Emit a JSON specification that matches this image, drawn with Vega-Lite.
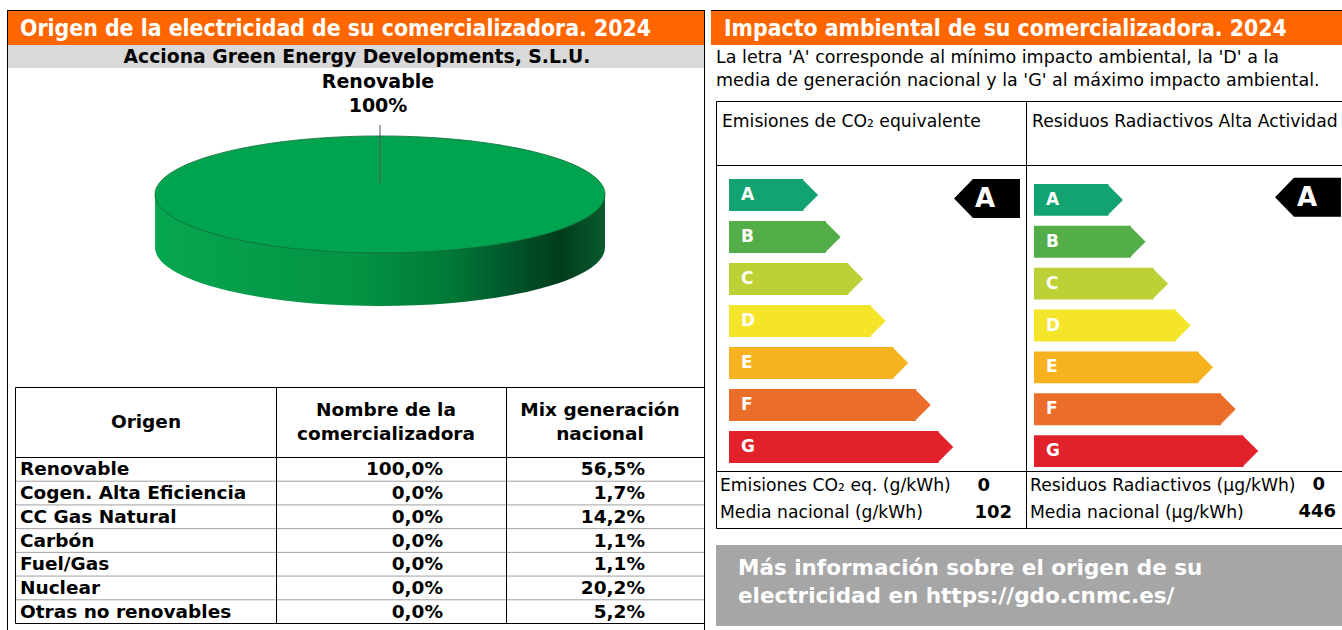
{
"$schema": "https://vega.github.io/schema/vega-lite/v6.json",
"width": 1342, "height": 630, "padding": 0, "autosize": {"type": "none"}, "background": "#ffffff",
"config": {"view": {"stroke": null}, "locale": {"number": {"decimal": ",", "thousands": ".", "grouping": [3], "currency": ["", " €"]}}},
"datasets": {
 "secciones": [
  {"seccion": "origen", "titulo": "Origen de la electricidad de su comercializadora. 2024"},
  {"seccion": "impacto", "titulo": "Impacto ambiental de su comercializadora. 2024"}
 ],
 "empresa": [{"nombre": "Acciona Green Energy Developments, S.L.U."}],
 "mix": [
  {"origen": "Renovable", "comercializadora": 1.0, "nacional": 0.565},
  {"origen": "Cogen. Alta Eficiencia", "comercializadora": 0, "nacional": 0.017},
  {"origen": "CC Gas Natural", "comercializadora": 0, "nacional": 0.142},
  {"origen": "Carbón", "comercializadora": 0, "nacional": 0.011},
  {"origen": "Fuel/Gas", "comercializadora": 0, "nacional": 0.011},
  {"origen": "Nuclear", "comercializadora": 0, "nacional": 0.202},
  {"origen": "Otras no renovables", "comercializadora": 0, "nacional": 0.052}
 ],
 "columnas": [
  {"columna": "Origen", "lineas": ["Origen"]},
  {"columna": "Nombre de la comercializadora", "lineas": ["Nombre de la", "comercializadora"]},
  {"columna": "Mix generación nacional", "lineas": ["Mix generación", "nacional"]}
 ],
 "descripcion": [{"texto": ["La letra 'A' corresponde al mínimo impacto ambiental, la 'D' a la", "media de generación nacional y la 'G' al máximo impacto ambiental."]}],
 "escala": [
  {"letra": "A", "nivel": 1}, {"letra": "B", "nivel": 2}, {"letra": "C", "nivel": 3}, {"letra": "D", "nivel": 4},
  {"letra": "E", "nivel": 5}, {"letra": "F", "nivel": 6}, {"letra": "G", "nivel": 7}
 ],
 "impacto": [
  {"clave": "co2", "indicador": "Emisiones de CO₂ equivalente", "clase": "A", "etiqueta": "Emisiones CO₂ eq. (g/kWh)", "valor": 0, "etiqueta_media": "Media nacional (g/kWh)", "media": 102},
  {"clave": "residuos", "indicador": "Residuos Radiactivos Alta Actividad", "clase": "A", "etiqueta": "Residuos Radiactivos (µg/kWh)", "valor": 0, "etiqueta_media": "Media nacional (µg/kWh)", "media": 446}
 ],
 "enlace": [{"texto": ["Más información sobre el origen de su", "electricidad en https://gdo.cnmc.es/"]}]
},
"resolve": {"scale": {"x": "independent", "y": "independent", "color": "independent"}},
"layer": [
 {"data": {"name": "secciones"}, "mark": {"type": "rect", "color": "#000000"},
  "encoding": {
   "x": {"field": "seccion", "type": "nominal", "axis": null, "scale": {"type": "band", "domain": ["origen", "impacto"], "range": [7, 1409], "paddingInner": 0.0085, "paddingOuter": 0}},
   "y": {"datum": 10, "type": "quantitative", "axis": null, "scale": {"type": "linear", "domain": [0, 630], "range": [0, 630], "nice": false, "zero": false}},
   "y2": {"datum": 11}}},
 {"data": {"name": "secciones"}, "mark": {"type": "rect", "color": "#ff6600"},
  "encoding": {
   "x": {"field": "seccion", "type": "nominal", "axis": null, "scale": {"type": "band", "domain": ["origen", "impacto"], "range": [7, 1409], "paddingInner": 0.0085, "paddingOuter": 0}},
   "y": {"datum": 11, "type": "quantitative", "axis": null, "scale": {"type": "linear", "domain": [0, 630], "range": [0, 630], "nice": false, "zero": false}},
   "y2": {"datum": 45}}},
 {"data": {"name": "secciones"}, "mark": {"type": "text", "align": "left", "baseline": "middle", "dx": 13, "font": "DejaVu Sans Condensed", "fontWeight": "bold", "fontSize": 22.8, "color": "#ffffff"},
  "encoding": {
   "x": {"field": "seccion", "type": "nominal", "axis": null, "bandPosition": 0, "scale": {"type": "band", "domain": ["origen", "impacto"], "range": [7, 1409], "paddingInner": 0.0085, "paddingOuter": 0}},
   "y": {"datum": 28.5, "type": "quantitative", "axis": null, "scale": {"type": "linear", "domain": [0, 630], "range": [0, 630], "nice": false, "zero": false}},
   "text": {"field": "titulo", "type": "nominal"}}},
 {"data": {"name": "empresa"}, "mark": {"type": "rect", "color": "#d9d9d9"},
  "encoding": {
   "x": {"field": "nombre", "type": "nominal", "axis": null, "scale": {"type": "band", "range": [8, 704], "paddingInner": 0, "paddingOuter": 0}},
   "y": {"datum": 45, "type": "quantitative", "axis": null, "scale": {"type": "linear", "domain": [0, 630], "range": [0, 630], "nice": false, "zero": false}},
   "y2": {"datum": 68}}},
 {"data": {"name": "empresa"}, "mark": {"type": "text", "align": "center", "baseline": "middle", "font": "DejaVu Sans", "fontWeight": "bold", "fontSize": 18.8, "color": "#000000"},
  "encoding": {
   "x": {"field": "nombre", "type": "nominal", "axis": null, "scale": {"type": "band", "range": [8, 706], "paddingInner": 0, "paddingOuter": 0}},
   "y": {"datum": 57, "type": "quantitative", "axis": null, "scale": {"type": "linear", "domain": [0, 630], "range": [0, 630], "nice": false, "zero": false}},
   "text": {"field": "nombre", "type": "nominal"}}},
 {"data": {"name": "empresa"}, "mark": {"type": "rect", "filled": false, "stroke": "#000000", "strokeWidth": 1},
  "encoding": {
   "x": {"field": "nombre", "type": "nominal", "axis": null, "scale": {"type": "band", "range": [7.5, 704.5], "paddingInner": 0, "paddingOuter": 0}},
   "y": {"datum": 10.5, "type": "quantitative", "axis": null, "scale": {"type": "linear", "domain": [0, 630], "range": [0, 630], "nice": false, "zero": false}},
   "y2": {"datum": 700}}},
 {"data": {"name": "mix"}, "transform": [{"filter": "datum.comercializadora > 0"}],
  "mark": {"type": "point", "shape": "M-1,-0.118 L-1,0.118 C-1,0.2616 -0.5523,0.378 0,0.378 C0.5523,0.378 1,0.2616 1,0.118 L1,-0.118 Z", "size": 202500, "filled": true, "opacity": 1, "strokeWidth": 0,
   "fill": {"gradient": "linear", "x1": 0, "y1": 0, "x2": 1, "y2": 0, "stops": [{"offset": 0, "color": "#07a651"}, {"offset": 0.45, "color": "#039343"}, {"offset": 0.65, "color": "#017a37"}, {"offset": 0.8, "color": "#00532a"}, {"offset": 0.9, "color": "#003d1c"}, {"offset": 1, "color": "#0b5a2d"}]}},
  "encoding": {
   "x": {"field": "origen", "type": "nominal", "axis": null, "scale": {"type": "band", "range": [155, 605], "paddingInner": 0, "paddingOuter": 0}},
   "y": {"field": "origen", "type": "nominal", "axis": null, "scale": {"type": "band", "range": [136, 306], "paddingInner": 0, "paddingOuter": 0}}}},
 {"data": {"name": "mix"}, "transform": [{"filter": "datum.comercializadora > 0"}],
  "mark": {"type": "point", "shape": "M-1,-0.118 C-1,-0.2616 -0.5523,-0.378 0,-0.378 C0.5523,-0.378 1,-0.2616 1,-0.118 C1,0.0256 0.5523,0.142 0,0.142 C-0.5523,0.142 -1,0.0256 -1,-0.118 Z", "size": 202500, "filled": true, "opacity": 1, "fill": "#00a44f", "stroke": "#17693a", "strokeWidth": 0.8},
  "encoding": {
   "x": {"field": "origen", "type": "nominal", "axis": null, "scale": {"type": "band", "range": [155, 605], "paddingInner": 0, "paddingOuter": 0}},
   "y": {"field": "origen", "type": "nominal", "axis": null, "scale": {"type": "band", "range": [136, 306], "paddingInner": 0, "paddingOuter": 0}}}},
 {"data": {"name": "mix"}, "transform": [{"filter": "datum.comercializadora > 0"}],
  "mark": {"type": "point", "shape": "M0,-0.4267 L0,-0.1689", "size": 202500, "filled": false, "opacity": 1, "stroke": "#555555", "strokeWidth": 1},
  "encoding": {
   "x": {"field": "origen", "type": "nominal", "axis": null, "scale": {"type": "band", "range": [155, 605], "paddingInner": 0, "paddingOuter": 0}},
   "y": {"field": "origen", "type": "nominal", "axis": null, "scale": {"type": "band", "range": [136, 306], "paddingInner": 0, "paddingOuter": 0}}}},
 {"data": {"name": "mix"}, "transform": [{"filter": "datum.comercializadora > 0"}],
  "mark": {"type": "text", "align": "center", "baseline": "middle", "dy": -12, "font": "DejaVu Sans", "fontWeight": "bold", "fontSize": 19, "color": "#000000"},
  "encoding": {
   "x": {"field": "origen", "type": "nominal", "axis": null, "scale": {"type": "band", "range": [151, 605], "paddingInner": 0, "paddingOuter": 0}},
   "y": {"field": "origen", "type": "nominal", "axis": null, "scale": {"type": "band", "range": [70, 118], "paddingInner": 0, "paddingOuter": 0}},
   "text": {"field": "origen", "type": "nominal"}}},
 {"data": {"name": "mix"}, "transform": [{"filter": "datum.comercializadora > 0"}],
  "mark": {"type": "text", "align": "center", "baseline": "middle", "dy": 12, "font": "DejaVu Sans", "fontWeight": "bold", "fontSize": 19, "color": "#000000"},
  "encoding": {
   "x": {"field": "origen", "type": "nominal", "axis": null, "scale": {"type": "band", "range": [151, 605], "paddingInner": 0, "paddingOuter": 0}},
   "y": {"field": "origen", "type": "nominal", "axis": null, "scale": {"type": "band", "range": [70, 118], "paddingInner": 0, "paddingOuter": 0}},
   "text": {"field": "comercializadora", "type": "quantitative", "format": ".0%"}}},
 {"data": {"name": "mix"}, "mark": {"type": "rule", "color": "#a0a0a0", "strokeWidth": 1},
  "encoding": {
   "y": {"field": "origen", "type": "nominal", "sort": null, "axis": null, "bandPosition": 0, "scale": {"type": "band", "range": [457.5, 623.5], "paddingInner": 0, "paddingOuter": 0}},
   "x": {"datum": 15, "type": "quantitative", "axis": null, "scale": {"type": "linear", "domain": [0, 1342], "range": [0, 1342], "nice": false, "zero": false}},
   "x2": {"datum": 704}}},
 {"data": {"values": [{"tabla": "origen"}]}, "mark": {"type": "rect", "filled": false, "stroke": "#000000", "strokeWidth": 1},
  "encoding": {
   "x": {"datum": 15.5, "type": "quantitative", "axis": null, "scale": {"type": "linear", "domain": [0, 1342], "range": [0, 1342], "nice": false, "zero": false}},
   "x2": {"datum": 704.5},
   "y": {"datum": 387.5, "type": "quantitative", "axis": null, "scale": {"type": "linear", "domain": [0, 630], "range": [0, 630], "nice": false, "zero": false}},
   "y2": {"datum": 623.5}}},
 {"data": {"values": [{"tabla": "origen"}]}, "mark": {"type": "rule", "color": "#000000", "strokeWidth": 1},
  "encoding": {
   "x": {"datum": 15, "type": "quantitative", "axis": null, "scale": {"type": "linear", "domain": [0, 1342], "range": [0, 1342], "nice": false, "zero": false}},
   "x2": {"datum": 705},
   "y": {"datum": 457.5, "type": "quantitative", "axis": null, "scale": {"type": "linear", "domain": [0, 630], "range": [0, 630], "nice": false, "zero": false}}}},
 {"data": {"name": "columnas"}, "transform": [{"filter": "datum.columna !== 'Origen'"}], "mark": {"type": "rule", "color": "#000000", "strokeWidth": 1},
  "encoding": {
   "x": {"field": "columna", "type": "nominal", "sort": null, "axis": null, "scale": {"type": "point", "range": [276.5, 506.5], "padding": 0}},
   "y": {"datum": 387.5, "type": "quantitative", "axis": null, "scale": {"type": "linear", "domain": [0, 630], "range": [0, 630], "nice": false, "zero": false}},
   "y2": {"datum": 623.5}}},
 {"data": {"name": "columnas"}, "transform": [{"filter": "datum.columna === 'Origen'"}],
  "mark": {"type": "text", "align": "center", "baseline": "middle", "lineHeight": 24, "font": "DejaVu Sans", "fontWeight": "bold", "fontSize": 18.5, "color": "#000000"},
  "encoding": {
   "x": {"datum": 146, "type": "quantitative", "axis": null, "scale": {"type": "linear", "domain": [0, 1342], "range": [0, 1342], "nice": false, "zero": false}},
   "y": {"datum": 422, "type": "quantitative", "axis": null, "scale": {"type": "linear", "domain": [0, 630], "range": [0, 630], "nice": false, "zero": false}},
   "text": {"field": "lineas", "type": "nominal"}}},
 {"data": {"name": "columnas"}, "transform": [{"filter": "datum.columna === 'Nombre de la comercializadora'"}],
  "mark": {"type": "text", "align": "center", "baseline": "middle", "lineHeight": 24, "font": "DejaVu Sans", "fontWeight": "bold", "fontSize": 18.5, "color": "#000000"},
  "encoding": {
   "x": {"datum": 386, "type": "quantitative", "axis": null, "scale": {"type": "linear", "domain": [0, 1342], "range": [0, 1342], "nice": false, "zero": false}},
   "y": {"datum": 410, "type": "quantitative", "axis": null, "scale": {"type": "linear", "domain": [0, 630], "range": [0, 630], "nice": false, "zero": false}},
   "text": {"field": "lineas", "type": "nominal"}}},
 {"data": {"name": "columnas"}, "transform": [{"filter": "datum.columna === 'Mix generación nacional'"}],
  "mark": {"type": "text", "align": "center", "baseline": "middle", "lineHeight": 24, "font": "DejaVu Sans", "fontWeight": "bold", "fontSize": 18.5, "color": "#000000"},
  "encoding": {
   "x": {"datum": 600, "type": "quantitative", "axis": null, "scale": {"type": "linear", "domain": [0, 1342], "range": [0, 1342], "nice": false, "zero": false}},
   "y": {"datum": 410, "type": "quantitative", "axis": null, "scale": {"type": "linear", "domain": [0, 630], "range": [0, 630], "nice": false, "zero": false}},
   "text": {"field": "lineas", "type": "nominal"}}},
 {"data": {"name": "mix"}, "mark": {"type": "text", "align": "left", "baseline": "middle", "font": "DejaVu Sans", "fontWeight": "bold", "fontSize": 18.5, "color": "#000000"},
  "encoding": {
   "x": {"datum": 20, "type": "quantitative", "axis": null, "scale": {"type": "linear", "domain": [0, 1342], "range": [0, 1342], "nice": false, "zero": false}},
   "y": {"field": "origen", "type": "nominal", "sort": null, "axis": null, "scale": {"type": "band", "range": [457.5, 623.5], "paddingInner": 0, "paddingOuter": 0}},
   "text": {"field": "origen", "type": "nominal"}}},
 {"data": {"name": "mix"}, "mark": {"type": "text", "align": "right", "baseline": "middle", "font": "DejaVu Sans", "fontWeight": "bold", "fontSize": 18.5, "color": "#000000"},
  "encoding": {
   "x": {"datum": 443, "type": "quantitative", "axis": null, "scale": {"type": "linear", "domain": [0, 1342], "range": [0, 1342], "nice": false, "zero": false}},
   "y": {"field": "origen", "type": "nominal", "sort": null, "axis": null, "scale": {"type": "band", "range": [457.5, 623.5], "paddingInner": 0, "paddingOuter": 0}},
   "text": {"field": "comercializadora", "type": "quantitative", "format": ".1%"}}},
 {"data": {"name": "mix"}, "mark": {"type": "text", "align": "right", "baseline": "middle", "font": "DejaVu Sans", "fontWeight": "bold", "fontSize": 18.5, "color": "#000000"},
  "encoding": {
   "x": {"datum": 645, "type": "quantitative", "axis": null, "scale": {"type": "linear", "domain": [0, 1342], "range": [0, 1342], "nice": false, "zero": false}},
   "y": {"field": "origen", "type": "nominal", "sort": null, "axis": null, "scale": {"type": "band", "range": [457.5, 623.5], "paddingInner": 0, "paddingOuter": 0}},
   "text": {"field": "nacional", "type": "quantitative", "format": ".1%"}}},
 {"data": {"name": "descripcion"}, "mark": {"type": "text", "align": "left", "baseline": "middle", "lineHeight": 23, "font": "DejaVu Sans", "fontSize": 17.5, "color": "#000000"},
  "encoding": {
   "x": {"datum": 716, "type": "quantitative", "axis": null, "scale": {"type": "linear", "domain": [0, 1342], "range": [0, 1342], "nice": false, "zero": false}},
   "y": {"datum": 58, "type": "quantitative", "axis": null, "scale": {"type": "linear", "domain": [0, 630], "range": [0, 630], "nice": false, "zero": false}},
   "text": {"field": "texto", "type": "nominal"}}},
 {"data": {"values": [{"tabla": "impacto"}]}, "mark": {"type": "rect", "filled": false, "stroke": "#000000", "strokeWidth": 1},
  "encoding": {
   "x": {"datum": 716.5, "type": "quantitative", "axis": null, "scale": {"type": "linear", "domain": [0, 1342], "range": [0, 1342], "nice": false, "zero": false}},
   "x2": {"datum": 1400},
   "y": {"datum": 101.5, "type": "quantitative", "axis": null, "scale": {"type": "linear", "domain": [0, 630], "range": [0, 630], "nice": false, "zero": false}},
   "y2": {"datum": 528.5}}},
 {"data": {"values": [{"tabla": "impacto"}]}, "mark": {"type": "rect", "filled": false, "stroke": "#000000", "strokeWidth": 1},
  "encoding": {
   "x": {"datum": 716.5, "type": "quantitative", "axis": null, "scale": {"type": "linear", "domain": [0, 1342], "range": [0, 1342], "nice": false, "zero": false}},
   "x2": {"datum": 1400},
   "y": {"datum": 165.5, "type": "quantitative", "axis": null, "scale": {"type": "linear", "domain": [0, 630], "range": [0, 630], "nice": false, "zero": false}},
   "y2": {"datum": 471.5}}},
 {"data": {"values": [{"tabla": "impacto"}]}, "mark": {"type": "rule", "color": "#000000", "strokeWidth": 1},
  "encoding": {
   "x": {"datum": 1026.5, "type": "quantitative", "axis": null, "scale": {"type": "linear", "domain": [0, 1342], "range": [0, 1342], "nice": false, "zero": false}},
   "y": {"datum": 101.5, "type": "quantitative", "axis": null, "scale": {"type": "linear", "domain": [0, 630], "range": [0, 630], "nice": false, "zero": false}},
   "y2": {"datum": 528.5}}},
 {"data": {"name": "impacto"}, "mark": {"type": "text", "align": "left", "baseline": "middle", "dx": 6, "font": "DejaVu Sans", "fontSize": 17.2, "color": "#000000"},
  "encoding": {
   "x": {"field": "indicador", "type": "nominal", "sort": null, "axis": null, "bandPosition": 0, "scale": {"type": "band", "range": [716, 1336], "paddingInner": 0, "paddingOuter": 0}},
   "y": {"datum": 122, "type": "quantitative", "axis": null, "scale": {"type": "linear", "domain": [0, 630], "range": [0, 630], "nice": false, "zero": false}},
   "text": {"field": "indicador", "type": "nominal"}}},
 {"data": {"name": "impacto"}, "mark": {"type": "text", "align": "left", "baseline": "middle", "dx": 4, "font": "DejaVu Sans", "fontSize": 17.2, "color": "#000000"},
  "encoding": {
   "x": {"field": "indicador", "type": "nominal", "sort": null, "axis": null, "bandPosition": 0, "scale": {"type": "band", "range": [716, 1336], "paddingInner": 0, "paddingOuter": 0}},
   "y": {"datum": 486, "type": "quantitative", "axis": null, "scale": {"type": "linear", "domain": [0, 630], "range": [0, 630], "nice": false, "zero": false}},
   "text": {"field": "etiqueta", "type": "nominal"}}},
 {"data": {"name": "impacto"}, "mark": {"type": "text", "align": "left", "baseline": "middle", "dx": 4, "font": "DejaVu Sans", "fontSize": 17.2, "color": "#000000"},
  "encoding": {
   "x": {"field": "indicador", "type": "nominal", "sort": null, "axis": null, "bandPosition": 0, "scale": {"type": "band", "range": [716, 1336], "paddingInner": 0, "paddingOuter": 0}},
   "y": {"datum": 513, "type": "quantitative", "axis": null, "scale": {"type": "linear", "domain": [0, 630], "range": [0, 630], "nice": false, "zero": false}},
   "text": {"field": "etiqueta_media", "type": "nominal"}}},
 {"data": {"name": "impacto"}, "transform": [{"filter": "datum.clave === 'co2'"}], "mark": {"type": "text", "align": "right", "baseline": "middle", "dx": -36, "font": "DejaVu Sans", "fontWeight": "bold", "fontSize": 18, "color": "#000000"},
  "encoding": {
   "x": {"field": "indicador", "type": "nominal", "axis": null, "bandPosition": 1, "scale": {"type": "band", "range": [716, 1026], "paddingInner": 0, "paddingOuter": 0}},
   "y": {"datum": 486, "type": "quantitative", "axis": null, "scale": {"type": "linear", "domain": [0, 630], "range": [0, 630], "nice": false, "zero": false}},
   "text": {"field": "valor", "type": "quantitative"}}},
 {"data": {"name": "impacto"}, "transform": [{"filter": "datum.clave === 'co2'"}], "mark": {"type": "text", "align": "right", "baseline": "middle", "dx": -14, "font": "DejaVu Sans", "fontWeight": "bold", "fontSize": 18, "color": "#000000"},
  "encoding": {
   "x": {"field": "indicador", "type": "nominal", "axis": null, "bandPosition": 1, "scale": {"type": "band", "range": [716, 1026], "paddingInner": 0, "paddingOuter": 0}},
   "y": {"datum": 513, "type": "quantitative", "axis": null, "scale": {"type": "linear", "domain": [0, 630], "range": [0, 630], "nice": false, "zero": false}},
   "text": {"field": "media", "type": "quantitative"}}},
 {"data": {"name": "impacto"}, "transform": [{"filter": "datum.clave === 'residuos'"}], "mark": {"type": "text", "align": "right", "baseline": "middle", "dx": -22, "font": "DejaVu Sans", "fontWeight": "bold", "fontSize": 18, "color": "#000000"},
  "encoding": {
   "x": {"field": "indicador", "type": "nominal", "axis": null, "bandPosition": 1, "scale": {"type": "band", "range": [1026, 1347], "paddingInner": 0, "paddingOuter": 0}},
   "y": {"datum": 485, "type": "quantitative", "axis": null, "scale": {"type": "linear", "domain": [0, 630], "range": [0, 630], "nice": false, "zero": false}},
   "text": {"field": "valor", "type": "quantitative"}}},
 {"data": {"name": "impacto"}, "transform": [{"filter": "datum.clave === 'residuos'"}], "mark": {"type": "text", "align": "right", "baseline": "middle", "dx": -11, "font": "DejaVu Sans", "fontWeight": "bold", "fontSize": 18, "color": "#000000"},
  "encoding": {
   "x": {"field": "indicador", "type": "nominal", "axis": null, "bandPosition": 1, "scale": {"type": "band", "range": [1026, 1347], "paddingInner": 0, "paddingOuter": 0}},
   "y": {"datum": 512, "type": "quantitative", "axis": null, "scale": {"type": "linear", "domain": [0, 630], "range": [0, 630], "nice": false, "zero": false}},
   "text": {"field": "media", "type": "quantitative"}}},
 {"data": {"name": "escala"}, "mark": {"type": "rect"},
  "encoding": {
   "x": {"field": "nivel", "type": "quantitative", "axis": null, "scale": {"type": "linear", "domain": [-2.3, 7], "range": [729, 938.6], "nice": false, "zero": false}},
   "x2": {"datum": -2.3},
   "y": {"field": "letra", "type": "nominal", "axis": null, "scale": {"type": "band", "domain": ["A", "B", "C", "D", "E", "F", "G"], "range": [179, 463], "paddingInner": 0.24, "paddingOuter": 0}},
   "color": {"field": "letra", "type": "nominal", "legend": null, "scale": {"domain": ["A", "B", "C", "D", "E", "F", "G"], "range": ["#12a371", "#53ad48", "#bdd035", "#f4e42a", "#f6b31f", "#ea6e29", "#e2222b"]}}}},
 {"data": {"name": "escala"}, "mark": {"type": "point", "shape": "M-0.08,-1 L0.92,0 L-0.08,1 Z", "size": 1019, "filled": true, "opacity": 1, "strokeWidth": 0},
  "encoding": {
   "x": {"field": "nivel", "type": "quantitative", "axis": null, "scale": {"type": "linear", "domain": [-2.3, 7], "range": [729, 938.6], "nice": false, "zero": false}},
   "y": {"field": "letra", "type": "nominal", "axis": null, "scale": {"type": "band", "domain": ["A", "B", "C", "D", "E", "F", "G"], "range": [179, 463], "paddingInner": 0.24, "paddingOuter": 0}},
   "color": {"field": "letra", "type": "nominal", "legend": null, "scale": {"domain": ["A", "B", "C", "D", "E", "F", "G"], "range": ["#12a371", "#53ad48", "#bdd035", "#f4e42a", "#f6b31f", "#ea6e29", "#e2222b"]}}}},
 {"data": {"name": "escala"}, "mark": {"type": "text", "align": "left", "baseline": "middle", "dx": 12, "font": "DejaVu Sans", "fontWeight": "bold", "fontSize": 17, "color": "#ffffff"},
  "encoding": {
   "x": {"datum": -2.3, "type": "quantitative", "axis": null, "scale": {"type": "linear", "domain": [-2.3, 7], "range": [729, 938.6], "nice": false, "zero": false}},
   "y": {"field": "letra", "type": "nominal", "axis": null, "scale": {"type": "band", "domain": ["A", "B", "C", "D", "E", "F", "G"], "range": [179, 463], "paddingInner": 0.24, "paddingOuter": 0}},
   "text": {"field": "letra", "type": "nominal"}}},
 {"data": {"name": "escala"}, "mark": {"type": "rect"},
  "encoding": {
   "x": {"field": "nivel", "type": "quantitative", "axis": null, "scale": {"type": "linear", "domain": [-2.3, 7], "range": [1034, 1243.6], "nice": false, "zero": false}},
   "x2": {"datum": -2.3},
   "y": {"field": "letra", "type": "nominal", "axis": null, "scale": {"type": "band", "domain": ["A", "B", "C", "D", "E", "F", "G"], "range": [184, 467], "paddingInner": 0.24, "paddingOuter": 0}},
   "color": {"field": "letra", "type": "nominal", "legend": null, "scale": {"domain": ["A", "B", "C", "D", "E", "F", "G"], "range": ["#12a371", "#53ad48", "#bdd035", "#f4e42a", "#f6b31f", "#ea6e29", "#e2222b"]}}}},
 {"data": {"name": "escala"}, "mark": {"type": "point", "shape": "M-0.08,-1 L0.92,0 L-0.08,1 Z", "size": 1012, "filled": true, "opacity": 1, "strokeWidth": 0},
  "encoding": {
   "x": {"field": "nivel", "type": "quantitative", "axis": null, "scale": {"type": "linear", "domain": [-2.3, 7], "range": [1034, 1243.6], "nice": false, "zero": false}},
   "y": {"field": "letra", "type": "nominal", "axis": null, "scale": {"type": "band", "domain": ["A", "B", "C", "D", "E", "F", "G"], "range": [184, 467], "paddingInner": 0.24, "paddingOuter": 0}},
   "color": {"field": "letra", "type": "nominal", "legend": null, "scale": {"domain": ["A", "B", "C", "D", "E", "F", "G"], "range": ["#12a371", "#53ad48", "#bdd035", "#f4e42a", "#f6b31f", "#ea6e29", "#e2222b"]}}}},
 {"data": {"name": "escala"}, "mark": {"type": "text", "align": "left", "baseline": "middle", "dx": 12, "font": "DejaVu Sans", "fontWeight": "bold", "fontSize": 17, "color": "#ffffff"},
  "encoding": {
   "x": {"datum": -2.3, "type": "quantitative", "axis": null, "scale": {"type": "linear", "domain": [-2.3, 7], "range": [1034, 1243.6], "nice": false, "zero": false}},
   "y": {"field": "letra", "type": "nominal", "axis": null, "scale": {"type": "band", "domain": ["A", "B", "C", "D", "E", "F", "G"], "range": [184, 467], "paddingInner": 0.24, "paddingOuter": 0}},
   "text": {"field": "letra", "type": "nominal"}}},
 {"data": {"name": "impacto"}, "transform": [{"filter": "datum.clave === 'co2'"}],
  "mark": {"type": "point", "shape": "M-0.31,-0.82 L-2.72,-0.82 L-3.69,0.18 L-2.72,1.18 L-0.31,1.18 Z", "size": 1521, "filled": true, "opacity": 1, "strokeWidth": 0, "color": "#000000"},
  "encoding": {
   "x": {"field": "indicador", "type": "nominal", "axis": null, "bandPosition": 1, "scale": {"type": "band", "range": [716, 1026], "paddingInner": 0, "paddingOuter": 0}},
   "y": {"field": "clase", "type": "nominal", "axis": null, "scale": {"type": "band", "domain": ["A", "B", "C", "D", "E", "F", "G"], "range": [179, 463], "paddingInner": 0.24, "paddingOuter": 0}}}},
 {"data": {"name": "impacto"}, "transform": [{"filter": "datum.clave === 'co2'"}],
  "mark": {"type": "text", "align": "center", "baseline": "middle", "dx": -41, "dy": 4, "font": "DejaVu Sans", "fontWeight": "bold", "fontSize": 26, "color": "#ffffff"},
  "encoding": {
   "x": {"field": "indicador", "type": "nominal", "axis": null, "bandPosition": 1, "scale": {"type": "band", "range": [716, 1026], "paddingInner": 0, "paddingOuter": 0}},
   "y": {"field": "clase", "type": "nominal", "axis": null, "scale": {"type": "band", "domain": ["A", "B", "C", "D", "E", "F", "G"], "range": [179, 463], "paddingInner": 0.24, "paddingOuter": 0}},
   "text": {"field": "clase", "type": "nominal"}}},
 {"data": {"name": "impacto"}, "transform": [{"filter": "datum.clave === 'residuos'"}],
  "mark": {"type": "point", "shape": "M-0.31,-1.13 L-2.72,-1.13 L-3.69,-0.13 L-2.72,0.87 L-0.31,0.87 Z", "size": 1521, "filled": true, "opacity": 1, "strokeWidth": 0, "color": "#000000"},
  "encoding": {
   "x": {"field": "indicador", "type": "nominal", "axis": null, "bandPosition": 1, "scale": {"type": "band", "range": [1026, 1347], "paddingInner": 0, "paddingOuter": 0}},
   "y": {"field": "clase", "type": "nominal", "axis": null, "scale": {"type": "band", "domain": ["A", "B", "C", "D", "E", "F", "G"], "range": [184, 467], "paddingInner": 0.24, "paddingOuter": 0}}}},
 {"data": {"name": "impacto"}, "transform": [{"filter": "datum.clave === 'residuos'"}],
  "mark": {"type": "text", "align": "center", "baseline": "middle", "dx": -40, "dy": -2, "font": "DejaVu Sans", "fontWeight": "bold", "fontSize": 26, "color": "#ffffff"},
  "encoding": {
   "x": {"field": "indicador", "type": "nominal", "axis": null, "bandPosition": 1, "scale": {"type": "band", "range": [1026, 1347], "paddingInner": 0, "paddingOuter": 0}},
   "y": {"field": "clase", "type": "nominal", "axis": null, "scale": {"type": "band", "domain": ["A", "B", "C", "D", "E", "F", "G"], "range": [184, 467], "paddingInner": 0.24, "paddingOuter": 0}},
   "text": {"field": "clase", "type": "nominal"}}},
 {"data": {"name": "enlace"}, "mark": {"type": "rect", "color": "#a6a6a6"},
  "encoding": {
   "x": {"datum": 716, "type": "quantitative", "axis": null, "scale": {"type": "linear", "domain": [0, 1342], "range": [0, 1342], "nice": false, "zero": false}},
   "x2": {"datum": 1400},
   "y": {"datum": 545, "type": "quantitative", "axis": null, "scale": {"type": "linear", "domain": [0, 630], "range": [0, 630], "nice": false, "zero": false}},
   "y2": {"datum": 626}}},
 {"data": {"name": "enlace"}, "mark": {"type": "text", "align": "left", "baseline": "middle", "lineHeight": 28, "font": "DejaVu Sans", "fontWeight": "bold", "fontSize": 21.5, "color": "#ffffff"},
  "encoding": {
   "x": {"datum": 738, "type": "quantitative", "axis": null, "scale": {"type": "linear", "domain": [0, 1342], "range": [0, 1342], "nice": false, "zero": false}},
   "y": {"datum": 569, "type": "quantitative", "axis": null, "scale": {"type": "linear", "domain": [0, 630], "range": [0, 630], "nice": false, "zero": false}},
   "text": {"field": "texto", "type": "nominal"}}}
]
}
